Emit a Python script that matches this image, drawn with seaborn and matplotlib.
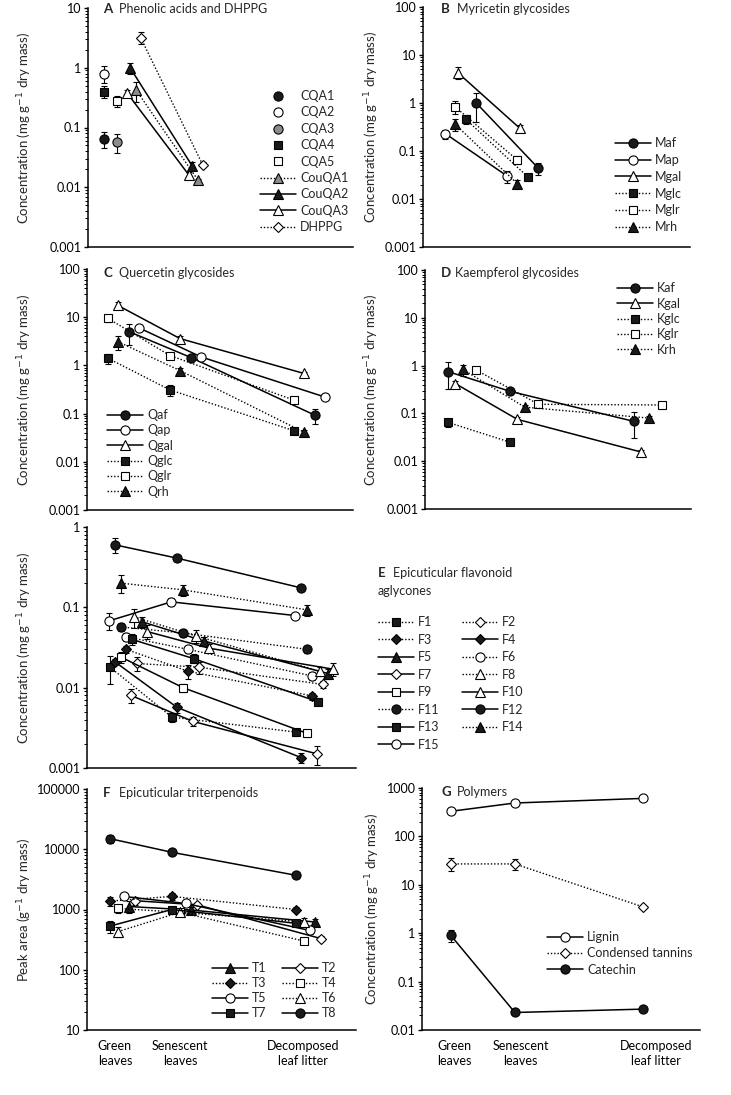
import numpy as np
import seaborn as sns
import matplotlib
matplotlib.use("Agg")
import matplotlib.pyplot as plt
from matplotlib.lines import Line2D
from matplotlib.legend import Legend
from matplotlib.ticker import FixedLocator, FuncFormatter, LogLocator, NullFormatter

W, H, DPI = 731, 1095, 100
FS = 9

stages = [1, 2, 4]
stage_labels = ["Green\nleaves", "Senescent\nleaves", "Decomposed\nleaf litter"]

# A - phenolic acids and DHPPG (mg g-1 dry mass)
a_names = ["CQA1", "CQA2", "CQA3", "CQA4", "CQA5", "CouQA1", "CouQA2", "CouQA3", "DHPPG"]
a_vals = [[0.065], [0.8], [0.057], [0.4], [0.28],
          [0.42, 0.013], [1.0, 0.023], [0.38, 0.016], [3.2, 0.024]]
a_errs = [[0.02], [0.25], [0.02], [0.09], [0.06],
          [0.15, 0.001], [0.2, 0.003], [0.05, 0.002], [0.7, 0.002]]

# B - myricetin glycosides
b_names = ["Maf", "Map", "Mgal", "Mglc", "Mglr", "Mrh"]
b_vals = [[1.0, 0.044], [0.23, 0.030], [4.3, 0.30], [0.46, 0.029], [0.83, 0.065], [0.36, 0.021]]
b_errs = [[0.6, 0.012], [0.05, 0.008], [1.2, 0.05], [0.1, 0.003], [0.25, 0.012], [0.1, 0.004]]

# C - quercetin glycosides
c_names = ["Qaf", "Qap", "Qgal", "Qglc", "Qglr", "Qrh"]
c_vals = [[5.0, 1.45, 0.092], [6.0, 1.5, 0.22], [17.5, 3.6, 0.68],
          [1.4, 0.31, 0.044], [9.4, 1.6, 0.19], [3.1, 0.78, 0.041]]
c_errs = [[2.3, 0.1, 0.03], [0.6, 0.1, 0.02], [3.0, 0.4, 0.06],
          [0.35, 0.08, 0.004], [1.5, 0.2, 0.02], [1.0, 0.1, 0.004]]

# D - kaempferol glycosides
d_names = ["Kaf", "Kgal", "Kglc", "Kglr", "Krh"]
d_vals = [[0.75, 0.29, 0.068], [0.42, 0.075, 0.0155], [0.065, 0.025],
          [0.8, 0.155, 0.15], [0.83, 0.135, 0.08]]
d_errs = [[0.43, 0.03, 0.038], [0.06, 0.008, 0.002], [0.012, 0.003],
          [0.1, 0.02, 0.01], [0.22, 0.015, 0.008]]

# E - epicuticular flavonoid aglycones
e_names = ["F%d" % i for i in range(1, 16)]
e_vals = [[0.018, 0.0043, 0.0028], [0.02, 0.018, 0.011], [0.03, 0.016, 0.0079],
          [0.021, 0.0057, 0.00135], [0.066, 0.038, 0.015], [0.043, 0.030, 0.014],
          [0.008, 0.0038, 0.0015], [0.076, 0.044, 0.016], [0.024, 0.010, 0.0027],
          [0.05, 0.031, 0.017], [0.057, 0.048, 0.03], [0.6, 0.41, 0.175],
          [0.04, 0.023, 0.0067], [0.2, 0.165, 0.093], [0.068, 0.117, 0.079]]
e_errs = [[0.007, 0.0006, 0.0003], [0.004, 0.003, 0.001], [0.003, 0.003, 0.0008],
          [0.002, 0.0008, 0.0002], [0.01, 0.005, 0.002], [0.005, 0.003, 0.0015],
          [0.0015, 0.0005, 0.0004], [0.02, 0.008, 0.002], [0.004, 0.0012, 0.0003],
          [0.01, 0.004, 0.003], [0.006, 0.005, 0.003], [0.13, 0.03, 0.015],
          [0.006, 0.003, 0.0007], [0.05, 0.025, 0.015], [0.016, 0.012, 0.006]]

# F - epicuticular triterpenoids (peak area g-1)
f_names = ["T%d" % i for i in range(1, 9)]
f_vals = [[1120, 980, 620], [1400, 1200, 330], [1380, 1650, 1000], [1040, 900, 300],
          [1650, 1260, 450], [430, 900, 620], [530, 1000, 590], [15000, 8900, 3700]]
f_errs = [[250, 100, 80], [200, 100, 30], [250, 200, 100], [150, 80, 30],
          [150, 100, 60], [80, 80, 100], [120, 100, 60], [2500, 800, 400]]

# G - polymers
g_names = ["Lignin", "Condensed tannins", "Catechin"]
g_vals = [[330, 490, 610], [27, 27, 3.5], [0.9, 0.023, 0.027]]
g_errs = [[30, 30, 40], [8, 7, 0.4], [0.25, 0.002, 0.003]]

# horizontal offsets of each series around the stage position (jitter as in the original)
a_shift = [-0.37, -0.37, -0.16, -0.37, -0.16, 0.15, 0.05, 0.0, 0.22]
b_shift = [0.34, -0.16, 0.04, 0.17, 0.0, 0.0]
c_shift = [0.18, 0.34, 0.0, -0.16, -0.16, 0.0]
d_shift = [0.0, 0.12, 0.0, 0.46, 0.24]
e_shift = [-0.08, 0.35, 0.18, 0.0, 0.44, 0.18, 0.26, 0.31, 0.1, 0.52, 0.1, 0.0, 0.27, 0.1, -0.09]
f_shift = [0.31, 0.4, 0.0, 0.13, 0.22, 0.13, 0.0, 0.0]
g_shift = [0.0, 0.0, 0.0]

# marker, face colour, line style
GRAY = "#8c8c8c"
STYLE = {
    "CQA1": ("o", "k", None), "CQA2": ("o", "w", None), "CQA3": ("o", GRAY, None),
    "CQA4": ("s", "k", None), "CQA5": ("s", "w", None), "CouQA1": ("^", GRAY, ":"),
    "CouQA2": ("^", "k", "-"), "CouQA3": ("^", "w", "-"), "DHPPG": ("D", "w", ":"),
    "Maf": ("o", "k", "-"), "Map": ("o", "w", "-"), "Mgal": ("^", "w", "-"),
    "Mglc": ("s", "k", ":"), "Mglr": ("s", "w", ":"), "Mrh": ("^", "k", ":"),
    "Qaf": ("o", "k", "-"), "Qap": ("o", "w", "-"), "Qgal": ("^", "w", "-"),
    "Qglc": ("s", "k", ":"), "Qglr": ("s", "w", ":"), "Qrh": ("^", "k", ":"),
    "Kaf": ("o", "k", "-"), "Kgal": ("^", "w", "-"), "Kglc": ("s", "k", ":"),
    "Kglr": ("s", "w", ":"), "Krh": ("^", "k", ":"),
    "F1": ("s", "k", ":"), "F2": ("D", "w", ":"), "F3": ("D", "k", ":"), "F4": ("D", "k", "-"),
    "F5": ("^", "k", "-"), "F6": ("o", "w", ":"), "F7": ("D", "w", "-"), "F8": ("^", "w", ":"),
    "F9": ("s", "w", "-"), "F10": ("^", "w", "-"), "F11": ("o", "k", ":"), "F12": ("o", "k", "-"),
    "F13": ("s", "k", "-"), "F14": ("^", "k", ":"), "F15": ("o", "w", "-"),
    "T1": ("^", "k", "-"), "T2": ("D", "w", "-"), "T3": ("D", "k", ":"), "T4": ("s", "w", ":"),
    "T5": ("o", "w", "-"), "T6": ("^", "w", ":"), "T7": ("s", "k", "-"), "T8": ("o", "k", "-"),
    "Lignin": ("o", "w", "-"), "Condensed tannins": ("D", "w", ":"), "Catechin": ("o", "k", "-"),
}
MS = {"o": 6.6, "s": 6.2, "^": 7.0, "D": 5.0}
LINES = {None: "none", "-": "-", ":": (0, (1, 1.4))}
LW = {None: 1.0, "-": 1.1, ":": 1.0}

sns.set_theme(style="ticks")
plt.rcParams["font.family"] = ["Lato", "DejaVu Sans"]
plt.rcParams["axes.linewidth"] = 1.1

fig = plt.figure(figsize=(W / DPI, H / DPI), dpi=DPI)
fig.patch.set_facecolor("white")


def fx(x):
    return x / W


def fy(y):
    return 1 - y / H


def add_axes(l, t, r, b):
    return fig.add_axes([fx(l), fy(b), (r - l) / W, (b - t) / H])


def handle(name):
    mk, face, ls = STYLE[name]
    return Line2D([], [], color="black", linestyle=LINES[ls], linewidth=LW[ls], marker=mk,
                  markersize=MS[mk], markerfacecolor=face, markeredgecolor="black",
                  markeredgewidth=0.8)


def draw(ax, name, vals, errs, shift):
    mk, face, ls = STYLE[name]
    xs = [s + shift for s in stages[:len(vals)]]
    ax.errorbar(xs, vals, yerr=errs, fmt="none", ecolor="black", elinewidth=0.8,
                capsize=2.3, capthick=0.8, zorder=2)
    sns.lineplot(x=xs, y=vals, ax=ax, errorbar=None, legend=False, sort=False,
                 color="black", linestyle=LINES[ls], linewidth=LW[ls], marker=mk,
                 markersize=MS[mk], markerfacecolor=face, markeredgecolor="black",
                 markeredgewidth=0.8, zorder=3)


def style_axis(ax, ylim, xlim):
    ax.set_yscale("log")
    ax.set_ylim(*ylim)
    ax.set_xlim(*xlim)
    lo, hi = int(round(np.log10(ylim[0]))), int(round(np.log10(ylim[1])))
    ax.yaxis.set_major_locator(FixedLocator([10.0 ** k for k in range(lo, hi + 1)]))
    ax.yaxis.set_major_formatter(FuncFormatter(lambda v, p: f"{v:g}"))
    ax.yaxis.set_minor_locator(LogLocator(base=10, subs=np.arange(2, 10)))
    ax.yaxis.set_minor_formatter(NullFormatter())
    ax.set_xticks([])
    ax.set_xlabel("")
    ax.set_ylabel("")
    sns.despine(ax=ax)
    for sp in ("left", "bottom"):
        ax.spines[sp].set_color("black")
        ax.spines[sp].set_linewidth(1.1)
    ax.tick_params(axis="y", which="major", direction="out", length=3.2, width=1.0,
                   pad=1.5, labelsize=FS, colors="black")
    ax.tick_params(axis="y", which="minor", direction="out", length=2.0, width=0.7,
                   colors="black")
    ax.set_facecolor("white")


def legend_at(ax, names, x_px, y_px, pitch, labels=None):
    fs_px = FS * DPI / 72
    leg = Legend(ax, [handle(n) for n in names], labels or names, loc="upper left",
                 bbox_to_anchor=(fx(x_px), fy(y_px - 0.55 * fs_px)),
                 bbox_transform=fig.transFigure, frameon=False, borderpad=0,
                 borderaxespad=0, handlelength=2.9, handletextpad=0.3,
                 labelspacing=max(pitch / fs_px - 0.99, 0.0), fontsize=FS)
    ax.add_artist(leg)


def panel_title(letter, text, xl, xt, y):
    fig.text(fx(xl), fy(y), letter, fontsize=FS + 0.5, fontweight="bold", va="center", ha="left")
    fig.text(fx(xt), fy(y), text, fontsize=FS, va="center", ha="left")


conc = "Concentration (mg g$^{-1}$ dry mass)"

panels = [
    # key, names, vals, errs, shifts, box px, ylim, xlim
    ("A", a_names, a_vals, a_errs, a_shift, (88, 8, 353, 247), (0.001, 10), (0.37, 4.65)),
    ("B", b_names, b_vals, b_errs, b_shift, (423, 7, 690, 247), (0.001, 100), (0.48, 4.79)),
    ("C", c_names, c_vals, c_errs, c_shift, (87, 269, 353, 510), (0.001, 100), (0.5, 4.79)),
    ("D", d_names, d_vals, d_errs, d_shift, (425, 270, 691, 509), (0.001, 100), (0.63, 4.92)),
    ("E", e_names, e_vals, e_errs, e_shift, (87, 527, 356, 768), (0.001, 1), (0.55, 4.89)),
    ("F", f_names, f_vals, f_errs, f_shift, (87, 789, 356, 1030), (10, 100000), (0.63, 4.97)),
    ("G", g_names, g_vals, g_errs, g_shift, (422, 788, 700, 1030), (0.01, 1000), (0.55, 4.89)),
]

axes = {}
for key, names, vals, errs, shifts, box, ylim, xlim in panels:
    ax = add_axes(*box)
    style_axis(ax, ylim, xlim)
    for n, v, e, s in zip(names, vals, errs, shifts):
        draw(ax, n, v, e, s)
    style_axis(ax, ylim, xlim)
    axes[key] = ax

# category labels under the two bottom panels
for key, pos in (("F", [1.08, 2.13, 4.11]), ("G", [1.06, 2.09, 4.2])):
    ax = axes[key]
    ax.set_xticks(pos)
    ax.set_xticklabels(stage_labels, fontsize=FS, linespacing=1.35, color="black")
    ax.tick_params(axis="x", length=0, pad=7)

# y-axis labels
for x, y, txt in ((25, 127.5, conc), (372, 127, conc), (25, 389.5, conc), (372, 389.5, conc),
                  (25, 647.5, conc), (25, 909.5, "Peak area (g$^{-1}$ dry mass)"), (373, 909, conc)):
    fig.text(fx(x), fy(y), txt, rotation=90, fontsize=FS + 0.5, ha="center", va="center")

# panel titles
panel_title("A", "Phenolic acids and DHPPG", 103, 119, 9)
panel_title("B", "Myricetin glycosides", 441, 457, 9)
panel_title("C", "Quercetin glycosides", 103, 119, 273)
panel_title("D", "Kaempferol glycosides", 441, 455, 273)
panel_title("E", "Epicuticular flavonoid", 378, 393, 573)
fig.text(fx(378), fy(591), "aglycones", fontsize=FS, va="center", ha="left")
panel_title("F", "Epicuticular triterpenoids", 103, 119, 793)
panel_title("G", "Polymers", 442, 457, 792)

# legends
legend_at(axes["A"], a_names, 260, 97, 16.75)
legend_at(axes["B"], b_names, 615, 144, 17.2)
legend_at(axes["C"], c_names, 107, 416, 15.7)
legend_at(axes["D"], d_names, 617, 289, 15.8)
legend_at(axes["E"], e_names[0::2], 378, 623, 17.9)
legend_at(axes["E"], e_names[1::2], 462, 623, 17.9)
legend_at(axes["F"], f_names[0::2], 212, 969, 15.3)
legend_at(axes["F"], f_names[1::2], 282, 969, 15.3)
legend_at(axes["G"], g_names, 547, 938, 16.7)

fig.savefig("out.png", dpi=DPI, facecolor="white")
